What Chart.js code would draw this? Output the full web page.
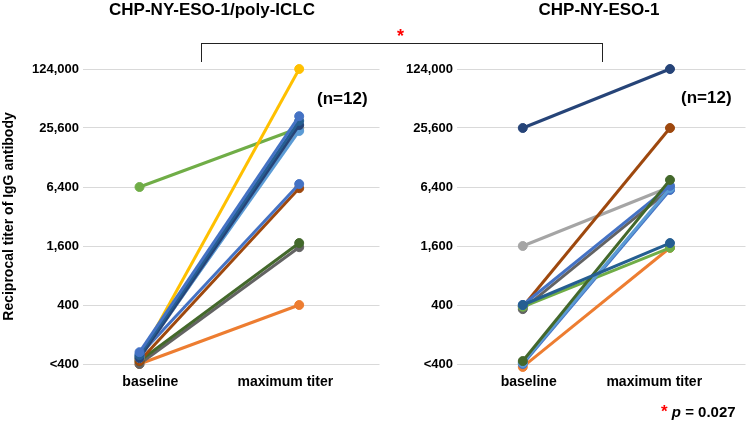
<!DOCTYPE html>
<html>
<head>
<meta charset="utf-8">
<script src="https://cdn.jsdelivr.net/npm/chart.js@4.4.1/dist/chart.umd.min.js"></script>
<style>
  body { margin: 0; background: #fff; font-family: "Liberation Sans", Arial, sans-serif; }
  #wrap { position: relative; width: 751px; height: 421px; overflow: hidden; }
  .lbl { position: absolute; font-weight: bold; color: #000; white-space: nowrap; }
  #bracket { position: absolute; left: 201px; top: 43px; width: 402px; height: 19px;
             border: 1px solid #222; border-bottom: none; box-sizing: border-box; }
</style>
</head>
<body>
<div id="wrap">
  <canvas id="polyChart" style="position:absolute;left:0;top:0;"></canvas>
  <canvas id="chpChart" style="position:absolute;left:385px;top:0;"></canvas>
  <div class="lbl" style="left:62px;top:0px;width:300px;text-align:center;font-size:17px;">CHP-NY-ESO-1/poly-ICLC</div>
  <div class="lbl" style="left:449px;top:0px;width:300px;text-align:center;font-size:17px;">CHP-NY-ESO-1</div>
  <div id="bracket"></div>
  <div class="lbl" style="left:397px;top:26px;font-size:18px;color:#ff0000;">*</div>
  <div class="lbl" style="left:317px;top:89px;font-size:17px;">(n=12)</div>
  <div class="lbl" style="left:681px;top:88px;font-size:17px;">(n=12)</div>
  <div class="lbl" style="left:661px;top:402px;font-size:15px;"><span style="color:#ff0000;font-size:17px;">*</span> <i>p</i> = 0.027</div>
</div>
<script>
// titer levels on a 4-fold scale
const tickLabels = ['<400', '400', '1,600', '6,400', '25,600', '124,000'];
const timepoints = ['baseline', 'maximum titer'];

// CHP-NY-ESO-1/poly-ICLC (level index: 0 = <400 ... 5 = 124,000)
// first entry is drawn on top
const polyColors   = ['#4472C4', '#255E91', '#264478', '#5B9BD5', '#A5A5A5', '#FFC000', '#70AD47', '#4472C4', '#9E480E', '#43682B', '#636363', '#ED7D31'];
const polyBaseline = [0.20, 0.15, 0.10, 0.12, 0.10, 0.10, 3.00, 0.15, 0.05, 0.05, 0.00, 0.00];
const polyMax      = [4.20, 4.12, 4.05, 3.95, 4.00, 5.00, 4.00, 3.05, 2.98, 2.05, 1.98, 1.00];

// CHP-NY-ESO-1
const chpColors   = ['#264478', '#255E91', '#43682B', '#4472C4', '#5B9BD5', '#70AD47', '#4472C4', '#636363', '#9E480E', '#A5A5A5', '#ED7D31'];
const chpBaseline = [4.00, 1.00, 0.05, 1.00, 0.02, 0.97, 0.00, 0.93, 0.97, 2.00, -0.05];
const chpMax      = [5.00, 2.05, 3.12, 3.02, 2.98, 1.97, 2.95, 2.96, 4.00, 3.00, 1.97];

const font = { family: '"Liberation Sans", Arial, sans-serif', weight: 'bold' };

function makeChart(canvasId, width, colors, baseline, maxTiter, opts) {
  const canvas = document.getElementById(canvasId);
  canvas.width = width;
  canvas.height = 421;
  canvas.style.width = width + 'px';
  canvas.style.height = '421px';

  const datasets = colors.map((color, i) => ({
    data: [{ x: 0, y: baseline[i] }, { x: 1, y: maxTiter[i] }],
    borderColor: color,
    backgroundColor: color,
    borderWidth: 3,
    pointRadius: 4.5,
    pointBorderWidth: 1,
    pointBorderColor: color,
    clip: false
  }));

  return new Chart(canvas.getContext('2d'), {
    type: 'line',
    data: { datasets: datasets },
    options: {
      responsive: false,
      animation: false,
      layout: { padding: { top: 69, right: opts.padRight, bottom: 0, left: 0 } },
      plugins: { legend: { display: false }, tooltip: { enabled: false } },
      scales: {
        x: {
          type: 'linear',
          min: opts.xMin,
          max: opts.xMax,
          afterBuildTicks: (scale) => { scale.ticks = opts.labelAt.map(v => ({ value: v })); },
          afterFit: (scale) => { scale.height = 57; },
          grid: { display: false, drawTicks: false },
          border: { display: false },
          ticks: {
            padding: 10,
            color: '#000',
            font: { ...font, size: 14 },
            autoSkip: false,
            maxRotation: 0,
            callback: (value, index) => timepoints[index]
          }
        },
        y: {
          type: 'linear',
          min: 0,
          max: 5,
          afterBuildTicks: (scale) => { scale.ticks = tickLabels.map((t, i) => ({ value: i })); },
          afterFit: (scale) => { scale.width = opts.yWidth; },
          grid: { color: '#D9D9D9', lineWidth: 1, drawTicks: false },
          border: { display: false },
          ticks: {
            padding: 4,
            color: '#000',
            font: { ...font, size: 13 },
            callback: (value, index) => tickLabels[index]
          },
          title: {
            display: opts.showTitle,
            text: 'Reciprocal titer of IgG antibody',
            color: '#000',
            font: { ...font, size: 14 },
            padding: { top: 1, bottom: 0 }
          }
        }
      }
    }
  });
}

makeChart('polyChart', 385, polyColors, polyBaseline, polyMax,
  { xMin: -0.354, xMax: 1.503, labelAt: [0.068, 0.913], yWidth: 83, padRight: 3, showTitle: true });
makeChart('chpChart', 366, chpColors, chpBaseline, chpMax,
  { xMin: -0.447, xMax: 1.513, labelAt: [0.04, 0.893], yWidth: 72, padRight: 0, showTitle: false });
</script>
</body>
</html>
